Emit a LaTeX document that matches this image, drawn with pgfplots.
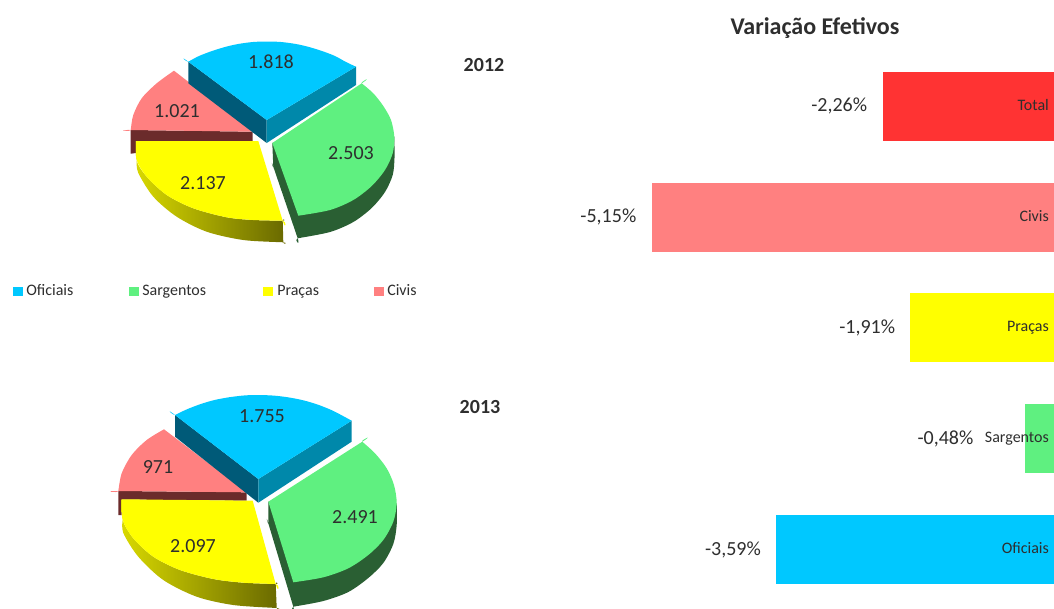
\documentclass[border=0pt]{standalone}
\usepackage{fontspec}
\setmainfont{Carlito}
\usepackage{pgfplots}
\pgfplotsset{compat=1.18}

\definecolor{cBlue}{HTML}{00C8FF}
\definecolor{cBlueL}{HTML}{005A78}
\definecolor{cBlueR}{HTML}{0088AA}
\definecolor{cGreen}{HTML}{5FF080}
\definecolor{cGreenD}{HTML}{2A5F33}
\definecolor{cYellow}{HTML}{FFFF00}
\definecolor{cRed}{HTML}{FF8080}
\definecolor{cRedD}{HTML}{6B2B2B}
\definecolor{cTotal}{HTML}{FF3333}
\definecolor{cText}{HTML}{2E2E2E}

\newcommand{\fs}[1]{\fontsize{#1}{#1}\selectfont}
\newcommand{\poly}[2]{\addplot[fill=#1,draw=none] coordinates {#2};}
% curved outlines: a repeated point keeps a sharp corner under smooth
\newcommand{\curved}[2]{\addplot[fill=#1,draw=none,smooth] coordinates {#2};}
\newcommand{\wall}[1]{\addplot[draw=none,smooth,left color=yellow!85!black,right color=yellow!40!black] coordinates {#1};}

\begin{document}
\begin{tikzpicture}
\path[use as bounding box] (0,0) rectangle (790.5pt,456pt);
% pies and legend, in picture pixels
\begin{axis}[
    at={(0,0)}, anchor=south west,
    scale only axis, width=790.5pt, height=456pt,
    xmin=0, xmax=1054, ymin=0, ymax=608,
    y dir=reverse, axis lines=none,
]
% 2012
\poly{cRedD}{(130.7,130)(252.7,131.7)(252.7,141)(136,141)(136,153)(130.7,153.7)}
\curved{cRed}{(174,70.7)(156.7,83.3)(141.7,98.3)(133.3,115)(130.7,130)(130.7,130)(252.7,131.7)}
\wall{(136,141)(136.7,161)(146.7,176.7)(166.7,195)(193.3,208.3)(226.7,217.3)(253.3,220)(282.7,220.7)(282.7,220.7)(283.3,242.3)(283.3,242.3)(243.3,240)(206.7,231.7)(176.7,216.7)(153.3,196.7)(138.3,173)(136.7,161)}
\curved{cYellow}{(136,141)(136.7,160)(146.7,176.7)(166.7,195)(193.3,208.3)(226.7,217.3)(253.3,220)(282.7,220.7)(282.7,220.7)(258.3,141)}
\curved{cGreenD}{(272.3,143)(273.3,166.7)(273.3,166.7)(297.7,238.3)(297.7,238.3)(330,232)(353.3,222)(371.7,208)(385,192)(392.7,175)(394.5,158)(394.3,136.7)}
\curved{cGreen}{(272.3,143)(361.7,83.3)(361.7,83.3)(373.3,93.3)(383.3,106)(391,120)(394.3,136.7)(392.7,153.3)(385,170)(371.7,186)(353.3,200)(330,210)(298.3,215.7)}
\poly{cBlueL}{(188.3,61.7)(266.7,120)(266.7,143)(188.3,83.3)}
\poly{cBlueR}{(266.7,120)(356,66.7)(356,85)(266.7,143)}
\curved{cBlue}{(266.7,120)(188.3,61.7)(188.3,61.7)(199,56)(212,51)(225,47)(238,44)(253,42)(267,41.5)(281,42)(296,44)(309,47)(322,51)(335,56)(346,62)(356,66.7)}
% 2013
\poly{cRedD}{(118.3,491)(246.7,492.3)(246.7,500.7)(121.7,499.5)(121.7,515)(118.3,515)}
\curved{cRed}{(164,429.3)(146.7,440)(131.7,455)(121.7,473.3)(118.3,491)(118.3,491)(246.7,492.3)}
\wall{(121.7,499.3)(122.7,520)(133.3,538.3)(153.3,556.7)(180,570)(213.3,579)(243.3,582.7)(275.7,584)(275.7,584)(276.7,608)(276.7,608)(233.3,605)(196.7,596.7)(163.3,580)(138.3,556.7)(123.3,533)(122.7,520)}
\curved{cYellow}{(121.7,499.3)(122.7,520)(133.3,538.3)(153.3,556.7)(180,570)(213.3,579)(243.3,582.7)(275.7,584)(275.7,584)(252.7,500.7)}
\curved{cGreenD}{(268.3,501.7)(268.3,523.3)(268.3,523.3)(293.3,606.7)(293.3,606.7)(323.3,601)(348.3,592)(368.3,578)(383.3,563)(393.3,544)(396.7,525)(396.7,503.3)}
\curved{cGreen}{(268.3,501.7)(362.3,441.7)(362.3,441.7)(375,453.3)(386.7,468.3)(394,485)(396.7,503.3)(393.3,521.7)(383.3,540)(368.3,555)(348.3,568.3)(323.3,577.3)(293.3,582.3)}
\poly{cBlueL}{(175,415)(258.3,479)(258.3,502.7)(175,436.7)}
\poly{cBlueR}{(258.3,479)(351.7,420.7)(351.7,441.7)(258.3,502.7)}
\curved{cBlue}{(258.3,479)(175,415)(175,415)(186.7,409.4)(200.2,404.2)(214.5,400)(229.5,397.2)(244.9,395.4)(258.3,395)(273.9,395.6)(289.3,397.5)(304.1,400.5)(318.3,404.8)(331.8,410.2)(342.3,415.6)(351.7,420.7)}
% legend swatches
\poly{cBlue}{(13,287)(23,287)(23,296)(13,296)}
\poly{cGreen}{(129,287)(139,287)(139,296)(129,296)}
\poly{cYellow}{(263,287)(273,287)(273,296)(263,296)}
\poly{cRed}{(374,287)(384,287)(384,296)(374,296)}

\begin{scope}[every node/.style={text=cText,font=\fs{15},inner sep=0pt}]
\node at (axis cs:271,62) {1.818};
\node at (axis cs:351,153) {2.503};
\node at (axis cs:203,183) {2.137};
\node at (axis cs:177,111) {1.021};
\node at (axis cs:262,416) {1.755};
\node at (axis cs:355,517) {2.491};
\node at (axis cs:193,546) {2.097};
\node at (axis cs:158,467) {971};
\node[font=\fs{15}\bfseries] at (axis cs:484,65) {2012};
\node[font=\fs{15}\bfseries] at (axis cs:480,407) {2013};
\node[font=\fs{18}\bfseries] at (axis cs:815,28) {Variação Efetivos};
\end{scope}
\begin{scope}[every node/.style={text=cText,font=\fs{12},inner sep=0pt,anchor=west,text height=8pt,text depth=2pt}]
\node at (axis cs:26,291) {Oficiais};
\node at (axis cs:142,291) {Sargentos};
\node at (axis cs:277,291) {Praças};
\node at (axis cs:387,291) {Civis};
\end{scope}
\end{axis}

% variation bars, zero lies just past the right edge
\begin{axis}[
    at={(405pt,0)}, anchor=south west,
    scale only axis, width=385.5pt, height=456pt,
    xmin=-6.548, xmax=-0.113,
    ymin=-0.528, ymax=4.959,
    axis lines=none,
    xbar, bar shift=0pt, bar width=51.75pt,
    point meta=explicit symbolic,
    nodes near coords,
    every node near coord/.append style={font=\fs{15},text=cText,anchor=east,xshift=-8pt},
]
\addplot[fill=cBlue,draw=none] coordinates {(-3.59,0)[-3,59\%]};
\addplot[fill=cGreen,draw=none,every node near coord/.append style={xshift=-27pt}] coordinates {(-0.48,1)[-0,48\%]};
\addplot[fill=cYellow,draw=none] coordinates {(-1.91,2)[-1,91\%]};
\addplot[fill=cRed,draw=none] coordinates {(-5.15,3)[-5,15\%]};
\addplot[fill=cTotal,draw=none] coordinates {(-2.26,4)[-2,26\%]};
\begin{scope}[every node/.style={font=\fs{12},text=cText,anchor=east,inner sep=0pt,text height=8pt,text depth=2pt}]
\node at (axis cs:-0.174,0) {Oficiais};
\node at (axis cs:-0.174,1) {Sargentos};
\node at (axis cs:-0.174,2) {Praças};
\node at (axis cs:-0.174,3) {Civis};
\node at (axis cs:-0.174,4) {Total};
\end{scope}
\end{axis}
\end{tikzpicture}
\end{document}
